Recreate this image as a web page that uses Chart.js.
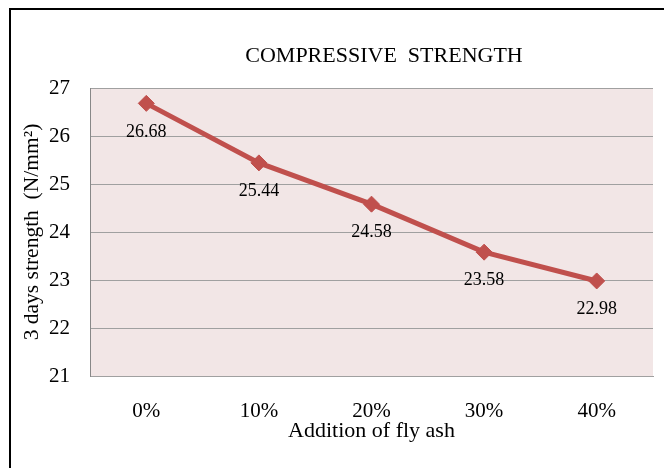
<!DOCTYPE html>
<html>
<head>
<meta charset="utf-8">
<script src="https://cdn.jsdelivr.net/npm/chart.js@4"></script>
<style>
  html, body { margin: 0; padding: 0; background: #fff; }
  #wrap { position: relative; width: 664px; height: 468px; overflow: hidden; }
  #frame { position: absolute; left: 9px; top: 8px; right: -10px; bottom: -10px;
           border-left: 2px solid #000; border-top: 2px solid #000; pointer-events: none; }
  canvas { position: absolute; left: 0; top: 0; }
</style>
</head>
<body>
<div id="wrap">
  <canvas id="c" width="664" height="468"></canvas>
  <div id="frame"></div>
</div>
<script>
const categories = ['0%', '10%', '20%', '30%', '40%'];
const strength3Days = [26.68, 25.44, 24.58, 23.58, 22.98];
const yTicks = [21, 22, 23, 24, 25, 26, 27];

const chartTitle = 'COMPRESSIVE  STRENGTH';
const xTitle = 'Addition of fly ash';
const yTitle = '3 days strength  (N/mm²)';

const FONT = "'Liberation Serif', 'Times New Roman', serif";

const plotBg = {
  id: 'plotBg',
  beforeDraw(chart) {
    const {ctx, chartArea: a} = chart;
    ctx.save();
    ctx.fillStyle = '#fff';
    ctx.fillRect(0, 0, chart.width, chart.height);
    ctx.fillStyle = '#f2e6e6';
    ctx.fillRect(a.left, a.top, a.right - a.left, a.bottom - a.top);
    ctx.restore();
  }
};

const titleShift = {
  id: 'titleShift',
  afterLayout(chart) {
    const tb = chart.titleBlock;
    if (!tb) return;
    const shift = 384 - (tb.left + tb.right) / 2;
    tb.left += shift;
    tb.right += shift;
  }
};

const valueLabels = {
  id: 'valueLabels',
  afterDatasetsDraw(chart) {
    const {ctx} = chart;
    const meta = chart.getDatasetMeta(0);
    const data = chart.data.datasets[0].data;
    ctx.save();
    ctx.font = '18px ' + FONT;
    ctx.fillStyle = '#000';
    ctx.textAlign = 'center';
    ctx.textBaseline = 'middle';
    meta.data.forEach((pt, i) => {
      ctx.fillText(Number(data[i]).toFixed(2), pt.x, pt.y + 28.5);
    });
    ctx.restore();
  }
};

new Chart(document.getElementById('c'), {
  type: 'line',
  data: {
    labels: categories,
    datasets: [{
      data: strength3Days,
      borderColor: '#c0504d',
      backgroundColor: '#c0504d',
      borderWidth: 5,
      pointStyle: 'rectRot',
      pointRadius: 8,
      pointBorderWidth: 1,
      pointBackgroundColor: '#c0504d',
      pointBorderColor: '#c0504d',
      tension: 0,
      fill: false
    }]
  },
  options: {
    responsive: false,
    animation: false,
    devicePixelRatio: 1,
    layout: { padding: { left: 0, top: 0, bottom: 0, right: 11 } },
    plugins: {
      legend: { display: false },
      tooltip: { enabled: false },
      title: {
        display: true,
        text: chartTitle,
        color: '#000',
        font: { family: FONT, size: 22, weight: 'normal' },
        padding: { top: 43, bottom: 18.6 }
      }
    },
    scales: {
      x: {
        type: 'category',
        offset: true,
        grid: { display: false, drawTicks: false },
        border: { display: true, color: '#a0a0a0', width: 1 },
        ticks: { color: '#000', font: { family: FONT, size: 21 }, padding: 22.4, maxRotation: 0 },
        title: {
          display: true, text: xTitle, color: '#000',
          font: { family: FONT, size: 22 }, padding: { top: 0, bottom: 24 }
        },
        afterFit(s) { s.height = 92; }
      },
      y: {
        min: 21, max: 27,
        afterBuildTicks(s) { s.ticks = yTicks.map(v => ({ value: v })); },
        grid: { color: '#a0a0a0', lineWidth: 1, drawTicks: false },
        border: { display: true, color: '#888', width: 1 },
        ticks: { color: '#000', font: { family: FONT, size: 21 }, padding: 20 },
        title: {
          display: true, text: yTitle, color: '#000',
          font: { family: FONT, size: 21.5 }, padding: { top: 19, bottom: 0 }
        },
        afterFit(s) { s.width = 90; }
      }
    }
  },
  plugins: [plotBg, titleShift, valueLabels]
});
</script>
</body>
</html>
